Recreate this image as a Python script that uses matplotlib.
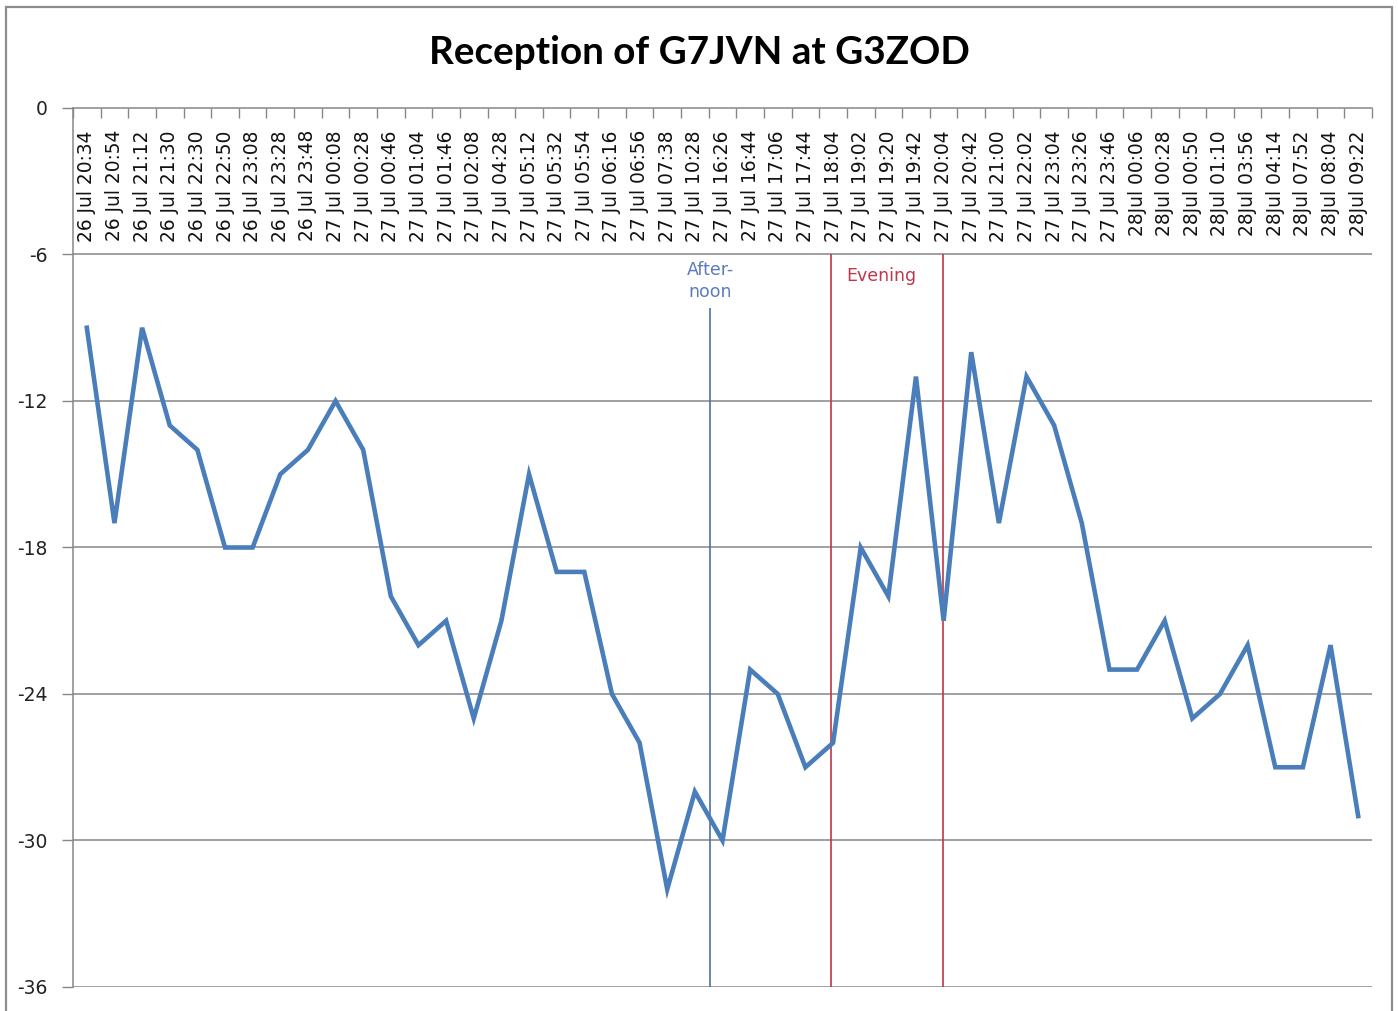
import matplotlib
matplotlib.use("Agg")
import matplotlib.pyplot as plt
from matplotlib.patches import Rectangle
import numpy as np

labels = ["26 Jul 20:34", "26 Jul 20:54", "26 Jul 21:12", "26 Jul 21:30", "26 Jul 22:30",
          "26 Jul 22:50", "26 Jul 23:08", "26 Jul 23:28", "26 Jul 23:48", "27 Jul 00:08",
          "27 Jul 00:28", "27 Jul 00:46", "27 Jul 01:04", "27 Jul 01:46", "27 Jul 02:08",
          "27 Jul 04:28", "27 Jul 05:12", "27 Jul 05:32", "27 Jul 05:54", "27 Jul 06:16",
          "27 Jul 06:56", "27 Jul 07:38", "27 Jul 10:28", "27 Jul 16:26", "27 Jul 16:44",
          "27 Jul 17:06", "27 Jul 17:44", "27 Jul 18:04", "27 Jul 19:02", "27 Jul 19:20",
          "27 Jul 19:42", "27 Jul 20:04", "27 Jul 20:42", "27 Jul 21:00", "27 Jul 22:02",
          "27 Jul 23:04", "27 Jul 23:26", "27 Jul 23:46", "28Jul 00:06", "28Jul 00:28",
          "28Jul 00:50", "28Jul 01:10", "28Jul 03:56", "28Jul 04:14", "28Jul 07:52",
          "28Jul 08:04", "28Jul 09:22"]

snr = [-9, -17, -9, -13, -14, -18, -18, -15, -14, -12,
       -14, -20, -22, -21, -25, -21, -15, -19, -19, -24,
       -26, -32, -28, -30, -23, -24, -27, -26, -18, -20,
       -11, -21, -10, -17, -11, -13, -17, -23, -23, -21,
       -25, -24, -22, -27, -27, -22, -29]

yticks = [0, -6, -12, -18, -24, -30, -36]

W, H = 1398, 1011
fig = plt.figure(figsize=(W / 100, H / 100), dpi=100)
fig.patch.set_facecolor("white")

# chart-area border
fig.patches.append(Rectangle((6 / W, -0.02), (1392 - 6) / W, 1.02 - 7 / H,
                             transform=fig.transFigure, fill=False,
                             edgecolor="#8c8c8c", lw=1.6))

left, right, top, bottom = 73, 1372, 108, 987
ax = fig.add_axes([left / W, 1 - bottom / H, (right - left) / W, (bottom - top) / H])

grid_c = "#868686"
x = np.arange(len(snr))
ax.plot(x, snr, color="#4A7EBB", lw=3.3, solid_joinstyle="miter", zorder=5)

ax.set_xlim(-0.5, len(snr) - 0.5)
ax.set_ylim(-36, 0)

# y axis
ax.set_yticks(yticks)
ax.set_yticklabels([str(v) for v in yticks], fontsize=13.5, family="DejaVu Sans", color="#222222")
ax.tick_params(axis="y", direction="out", length=8, width=1, color=grid_c, pad=10)
for v in yticks[1:]:
    ax.axhline(v, color=grid_c, lw=1.1, zorder=1)

for s in ["right", "bottom"]:
    ax.spines[s].set_visible(False)
ax.spines["left"].set_color(grid_c)
ax.spines["top"].set_color(grid_c)
ax.spines["left"].set_linewidth(1.1)
ax.spines["top"].set_linewidth(1.1)

# x axis at top: major ticks between categories, labels at centers
ax.xaxis.tick_top()
ax.set_xticks(np.arange(-0.5, len(snr), 1.0))
ax.set_xticklabels([])
ax.set_xticks(x, minor=True)
ax.set_xticklabels(labels, minor=True, rotation=90, fontsize=13.4,
                   family="DejaVu Sans", color="#111111")
ax.tick_params(axis="x", which="major", direction="in", length=7, width=1, color=grid_c,
               top=True, bottom=False)
ax.tick_params(axis="x", which="minor", length=0, top=True, bottom=False,
               labeltop=True, labelbottom=False, pad=-16)
for lbl in ax.get_xticklabels(minor=True):
    lbl.set_verticalalignment("top")

# period markers
ax.vlines(22.55, -36, -8.2, color="#4F6FA8", lw=1.2, zorder=3)
ax.vlines([26.93, 30.98], -36, -6, color="#C0364A", lw=1.2, zorder=3)
ax.text(22.55, -7.1, "After-\nnoon", ha="center", va="center", fontsize=12.5,
        color="#5B7BC0", family="DejaVu Sans", linespacing=1.3)
ax.text(28.73, -6.9, "Evening", ha="center", va="center", fontsize=12.5,
        color="#C0364A", family="DejaVu Sans")

fig.text(699 / W, 1 - 53 / H, "Reception of G7JVN at G3ZOD", ha="center", va="center",
         fontsize=27.8, fontweight="bold", family="Lato", color="#000000")

fig.savefig("out.png", dpi=100, facecolor="white")
